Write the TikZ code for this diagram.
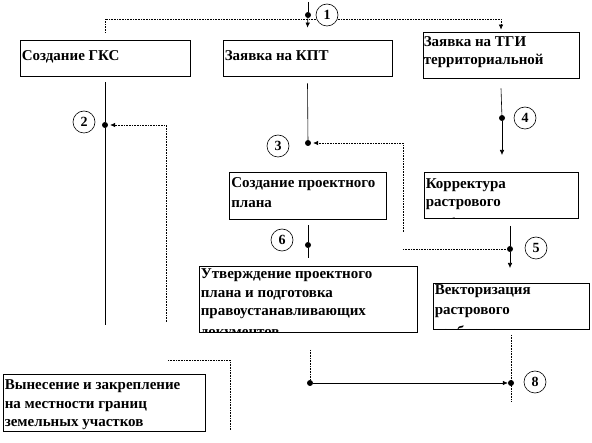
\documentclass[tikz,border=0pt]{standalone}
\usepackage{fontspec}
\setmainfont{Liberation Serif}
\usetikzlibrary{arrows.meta}
\tikzset{
  box/.style={
    rectangle,
    draw,
    line width=0.8pt,
    inner sep=0pt
  },
  boxlabel/.style={
    anchor=base west,
    inner sep=0pt,
    align=left,
    font=\bfseries\fontsize{15}{18.5}\selectfont
  },
  num/.style={
    circle,
    draw,
    fill=white,
    line width=0.6pt,
    inner sep=0pt,
    minimum size=22pt,
    font=\bfseries\fontsize{14}{14}\selectfont
  },
  dot/.style={circle, fill, inner sep=0pt, minimum size=6pt},
  line/.style={line width=0.6pt},
  dotline/.style={line width=0.6pt, densely dotted},
  arrow/.style={-{Latex[length=5pt,width=4.5pt]}, line width=0.6pt}
}
\begin{document}
\begin{tikzpicture}[x=1pt, y=-1pt]
\useasboundingbox (0,0) rectangle (592,443);

\node[box, minimum width=170pt, minimum height=36pt] (gks) at (105,58) {};
\node[box, minimum width=169pt, minimum height=36pt] (kpt) at (307.5,58) {};
\node[box, minimum width=156pt, minimum height=46pt] (tgi) at (501,55) {};
\node[box, minimum width=157pt, minimum height=47pt] (proekt) at (308,195.5) {};
\node[box, minimum width=154pt, minimum height=46pt] (korr) at (501,195) {};
\node[box, minimum width=218pt, minimum height=66pt] (utv) at (308,299) {};
\node[box, minimum width=156pt, minimum height=46pt] (vekt) at (511,306) {};
\node[box, minimum width=202pt, minimum height=57pt] (vynes) at (104,402.5) {};

\node[boxlabel] (gkstext) at ([xshift=2pt,yshift=-21pt]gks.north west) {Создание ГКС};
\node[boxlabel] (kpttext) at ([xshift=2pt,yshift=-21pt]kpt.north west) {Заявка на КПТ};
\node[boxlabel] (tgitext) at ([xshift=1pt,yshift=-33pt]tgi.north west) {Заявка на ТГИ\\территориальной};
\node[boxlabel] (proekttext) at ([xshift=2pt,yshift=-36pt]proekt.north west) {Создание проектного\\[1.5pt]плана};
\begin{scope}
\clip (korr.north west) rectangle (korr.south east);
\node[boxlabel] (korrtext) at ([xshift=2pt,yshift=-57pt]korr.north west) {Корректура\\растрового\\[3.5pt]изображения};
\end{scope}
\begin{scope}
\clip (utv.north west) rectangle (utv.south east);
\node[boxlabel] (utvtext) at ([xshift=2pt,yshift=-71pt]utv.north west) {Утверждение проектного\\плана и подготовка\\правоустанавливающих\\[2.5pt]документов};
\end{scope}
\begin{scope}
\clip (vekt.north west) rectangle (vekt.south east);
\node[boxlabel] (vekttext) at ([xshift=2pt,yshift=-54pt]vekt.north west) {Векторизация\\[1.5pt]растрового\\[3.5pt]изображения};
\end{scope}
\node[boxlabel] (vynestext) at ([xshift=2pt,yshift=-53pt]vynes.north west) {Вынесение и закрепление\\на местности границ\\земельных участков};

\coordinate (top1) at (308,2);
\coordinate (l2top) at (105,19);
\coordinate (l3end) at (105,325);
\coordinate (l4a) at (166,322);
\coordinate (l5a) at (168,360);
\coordinate (l5b) at (230,430);
\coordinate (l7a) at (403,232);
\coordinate (l8a) at (403,249);
\coordinate (l9end) at (502,155);
\coordinate (l10a) at (510,226);
\coordinate (l10end) at (510,268);
\coordinate (l12a) at (511,335);
\coordinate (l12end) at (511,402);
\coordinate (l13a) at (310,350);

\node[dot] (d1) at (308,15) {};
\node[dot] (d2) at (105,125) {};
\node[dot] (d3) at (308,143) {};
\node[dot] (d4) at (502,118) {};
\node[dot] (d5) at (510,249) {};
\node[dot] (d6) at (308,245) {};
\node[dot] (d7) at (310,383) {};
\node[dot] (d8) at (511,383) {};

\draw[dotline, -{Latex[length=5pt,width=4.5pt]}] ([yshift=7pt]gks.north) -- (l2top) -| ([yshift=2pt]tgi.north);
\draw[line] (top1) -- (d1);
\draw[arrow] (d1) -- ([yshift=12pt]kpt.north);
\draw[line] ([yshift=-6pt]gks.south) -- (d2) -- (l3end);
\draw[dotline, -{Latex[length=5pt,width=4.5pt]}, shorten >=2pt] (l4a) |- (d2);
\draw[dotline] (l5a) -| (l5b);
\draw[line] ([yshift=-7pt]kpt.south) -- (d3);
\draw[dotline, -{Latex[length=5pt,width=4.5pt]}, shorten >=2pt] (l7a) |- (d3);
\draw[dotline] (l8a) -- (d5);
\draw[line] ([yshift=-10pt]tgi.south) -- (d4);
\draw[arrow] (d4) -- (l9end);
\draw[line] (l10a) -- (d5);
\draw[arrow] (d5) -- (l10end);
\draw[line] ([yshift=-6pt]proekt.south) -- (d6) -- ([yshift=8pt]utv.north);
\draw[dotline] (l12a) -- (l12end);
\draw[dotline] (l13a) -- (d7);
\draw[arrow] (d7) -- (d8);

\node[num] (n1) at (327,15) {1};
\node[num] (n2) at (84,122) {2};
\node[num] (n3) at (278,146) {3};
\node[num] (n4) at (525,118) {4};
\node[num] (n5) at (536,248) {5};
\node[num] (n6) at (282,240) {6};
\node[num] (n8) at (535,382) {8};
\end{tikzpicture}
\end{document}
